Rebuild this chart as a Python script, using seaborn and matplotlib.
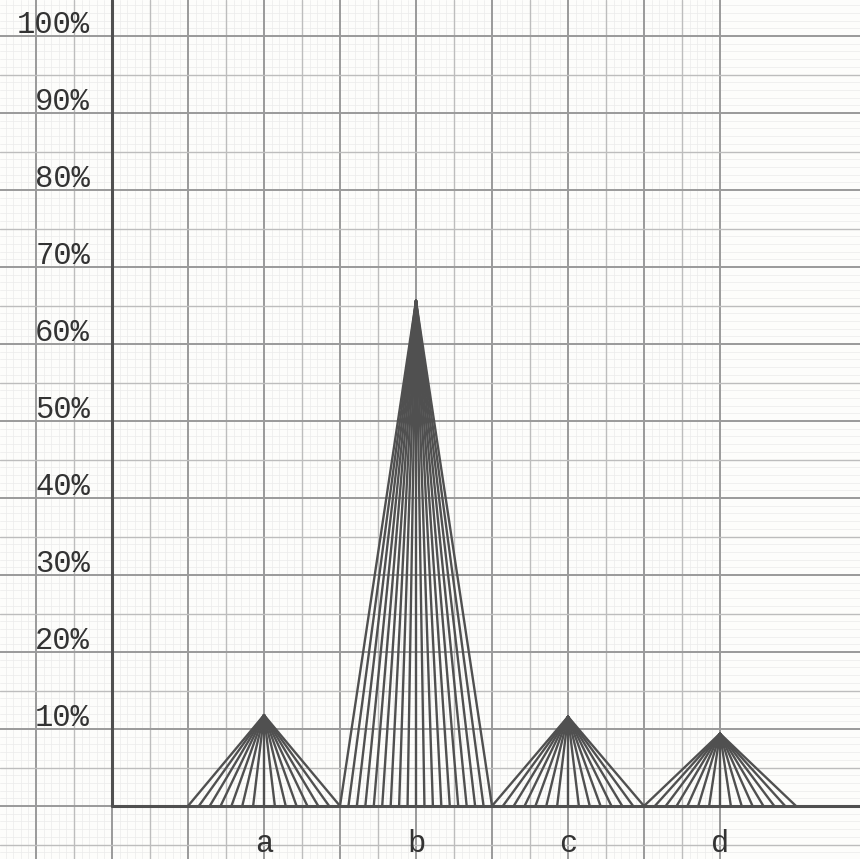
import numpy as np
import pandas as pd
import seaborn as sns
import matplotlib.pyplot as plt

categorias = ['a', 'b', 'c', 'd']
percentuais = [11.8, 65.6, 11.6, 9.4]
n_linhas = [15, 19, 15, 15]
ticks_y = [10, 20, 30, 40, 50, 60, 70, 80, 90, 100]
rotulos_y = ['10%', '20%', '30%', '40%', '50%', '60%', '70%', '80%', '90%', '100%']

tinta = '#505050'
papel = '#fdfdfb'
fonte = 'Liberation Mono'

sns.set_theme(style='white')
plt.rcParams['font.family'] = [fonte, 'DejaVu Sans']

# segmentos do leque: do topo de cada triangulo ate pontos na base
linhas = []
for i, (cat, val, n) in enumerate(zip(categorias, percentuais, n_linhas)):
    for k, xb in enumerate(np.linspace(i - 0.5, i + 0.5, n)):
        seg = f'{cat}{k}'
        linhas.append({'seg': seg, 'x': xb, 'y': 0.0})
        linhas.append({'seg': seg, 'x': i, 'y': val})
df = pd.DataFrame(linhas)

fig = plt.figure(figsize=(8.6, 8.59), dpi=100, facecolor=papel)
ax = fig.add_axes([0, 0, 1, 1])
ax.set_facecolor(papel)

x0 = -1 - 112 / 152
x1 = x0 + 860 / 152
y1 = 806 / 7.7
y0 = -(859 - 806) / 7.7
ax.set_xlim(x0, x1)
ax.set_ylim(y0, y1)

# papel milimetrado
for k in range(int(np.floor(x0 / 0.05)) - 2, int(np.ceil(x1 / 0.05)) + 2):
    xv = -1 + k * 0.05
    if k % 10 == 0:
        ax.axvline(xv, color='#9a9a9a', lw=1.4, zorder=1)
    elif k % 5 == 0:
        ax.axvline(xv, color='#bdbdbd', lw=1.0, zorder=1)
    else:
        ax.axvline(xv, color='#ebebeb', lw=0.5, zorder=0)
for k in range(int(np.floor(y0)) - 1, int(np.ceil(y1)) + 1):
    if k % 10 == 0:
        ax.axhline(k, color='#9a9a9a', lw=1.4, zorder=1)
    elif k % 5 == 0:
        ax.axhline(k, color='#bdbdbd', lw=1.0, zorder=1)
    else:
        ax.axhline(k, color='#ebebeb', lw=0.5, zorder=0)

sns.lineplot(data=df, x='x', y='y', units='seg', estimator=None,
             color=tinta, lw=1.7, ax=ax, zorder=3)

# eixos
ax.plot([-1, x1], [0, 0], color=tinta, lw=2.2, zorder=4)
ax.plot([-1, -1], [0, y1], color=tinta, lw=2.2, zorder=4)

for t, r in zip(ticks_y, rotulos_y):
    ax.text(-1 - 22 / 152, t - 0.5, r, ha='right', va='bottom',
            fontsize=22, color='#333333', zorder=5)
for i, cat in enumerate(categorias):
    ax.text(i, -4.9, cat, ha='center', va='center',
            fontsize=22, color='#333333', zorder=5)

ax.set_xlabel('')
ax.set_ylabel('')
ax.set_xticks([])
ax.set_yticks([])
for s in ax.spines.values():
    s.set_visible(False)

fig.savefig('out.png', dpi=100, facecolor=papel)
